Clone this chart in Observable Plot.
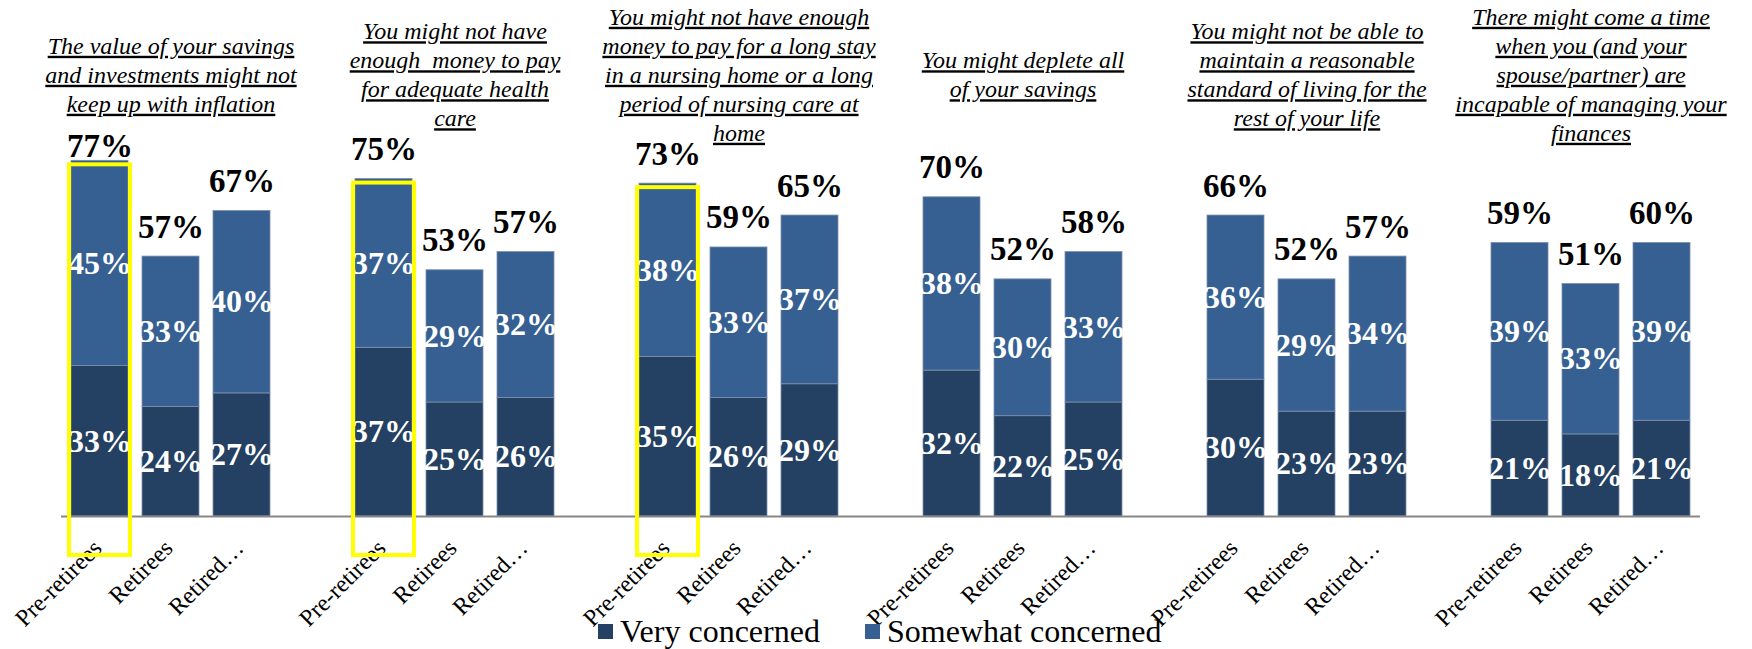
<!DOCTYPE html>
<html><head><meta charset="utf-8">
<script src="https://cdn.jsdelivr.net/npm/d3@7"></script>
<script src="https://cdn.jsdelivr.net/npm/@observablehq/plot@0.6"></script>
<style>
body{margin:0;background:#fff;}
#chart svg{overflow:visible;}
#chart svg g[font-style="italic"] text{text-decoration:underline;text-decoration-thickness:1.5px;text-underline-offset:3px;}
#legend{position:relative;height:33px;margin-top:-9px;font-family:'Liberation Serif','Times New Roman',serif;font-size:32px;line-height:30px;color:#000;}
#legend .item{position:absolute;top:0;display:flex;align-items:center;white-space:nowrap;}
#legend .sw{width:15px;height:15px;margin-right:7px;}
</style></head>
<body><div id="chart"></div><div id="legend"></div>
<script>
const titles = [
  "The value of your savings\nand investments might not\nkeep up with inflation",
  "You might not have\nenough  money to pay\nfor adequate health\ncare",
  "You might not have enough\nmoney to pay for a long stay\nin a nursing home or a long\nperiod of nursing care at\nhome",
  "You might deplete all\nof your savings",
  "You might not be able to\nmaintain a reasonable\nstandard of living for the\nrest of your life",
  "There might come a time\nwhen you (and your\nspouse/partner) are\nincapable of managing your\nfinances"
];
const subgroups = ["Pre-retirees", "Retirees", "Retired…"];
const veryConcerned = [[33,24,27],[37,25,26],[35,26,29],[32,22,25],[30,23,23],[21,18,21]];
const somewhatConcerned = [[45,33,40],[37,29,32],[38,33,37],[38,30,33],[36,29,34],[39,33,39]];
const totalLabels = [[77,57,67],[75,53,57],[73,59,65],[70,52,58],[66,52,57],[59,51,60]];
const highlightedGroups = [0,1,2];
const seriesNames = ["Very concerned", "Somewhat concerned"];
const seriesColors = ["#244062", "#366092"];

const FONT = "'Liberation Serif', 'Times New Roman', serif";
const keys = [];
titles.forEach((t, g) => {
  subgroups.forEach(s => keys.push(`${g}|${s}`));
  if (g < titles.length - 1) keys.push(`${g}|gap`);
});
const rows = [], cats = [], titleRows = [];
titles.forEach((t, g) => {
  titleRows.push({key: `${g}|${subgroups[1]}`, title: t});
  subgroups.forEach((s, i) => {
    const key = `${g}|${s}`;
    rows.push({key, series: seriesNames[0], value: veryConcerned[g][i]});
    rows.push({key, series: seriesNames[1], value: somewhatConcerned[g][i]});
    cats.push({key, group: g, sub: s, top: veryConcerned[g][i] + somewhatConcerned[g][i], total: totalLabels[g][i]});
  });
});
// the tallest bar's total sits tight on the bar, clear of the question above it
const tall = d => d.top > 76;
const totalStyle = {x: "key", y: "top", text: d => d.total + "%", lineAnchor: "bottom", fill: "black", fontSize: 33, fontWeight: "bold", fontFamily: FONT};

const chart = Plot.plot({
  width: 1752, height: 625,
  marginLeft: 61, marginRight: 52, marginTop: 60, marginBottom: 109,
  style: {fontFamily: FONT},
  x: {domain: keys, paddingInner: 0.2, paddingOuter: 0.1, axis: null},
  y: {domain: [0, 100], axis: null},
  color: {domain: seriesNames, range: seriesColors},
  marks: [
    Plot.barY(rows, {x: "key", y: "value", fill: "series", stroke: "#7d90ab", strokeWidth: 0.8}),
    Plot.text(rows, Plot.stackY({x: "key", y: "value", text: d => d.value + "%", fill: "white", fontSize: 32, fontWeight: "bold", fontFamily: FONT})),
    Plot.ruleY([0], {stroke: "#878787", strokeWidth: 2}),
    Plot.text(cats.filter(d => !tall(d)), {...totalStyle, dy: -19}),
    Plot.text(cats.filter(tall), {...totalStyle, dy: -4}),
    Plot.text(cats, {x: "key", text: "sub", frameAnchor: "bottom", rotate: -45, textAnchor: "end", lineAnchor: "top", dx: -9, dy: 21, fill: "black", fontSize: 24, fontFamily: FONT}),
    Plot.text(titleRows, {x: "key", text: "title", frameAnchor: "top", lineAnchor: "middle", dy: 13, lineHeight: 29/24, fill: "black", fontSize: 24, fontStyle: "italic", fontFamily: FONT}),
    Plot.barY(cats.filter(d => highlightedGroups.includes(d.group) && d.sub === subgroups[0]),
      {x: "key", y: "top", fill: "none", stroke: "#ffff00", strokeWidth: 4, insetTop: 4, insetBottom: -39, insetLeft: -2, insetRight: -2})
  ]
});
document.getElementById("chart").appendChild(chart);

const legend = document.getElementById("legend");
const legendLeft = [598, 865];
seriesNames.forEach((name, i) => {
  const item = document.createElement("div");
  item.className = "item";
  item.style.left = legendLeft[i] + "px";
  item.innerHTML = `<span class="sw" style="background:${seriesColors[i]}"></span><span>${name}</span>`;
  legend.appendChild(item);
});
</script>
</body></html>
